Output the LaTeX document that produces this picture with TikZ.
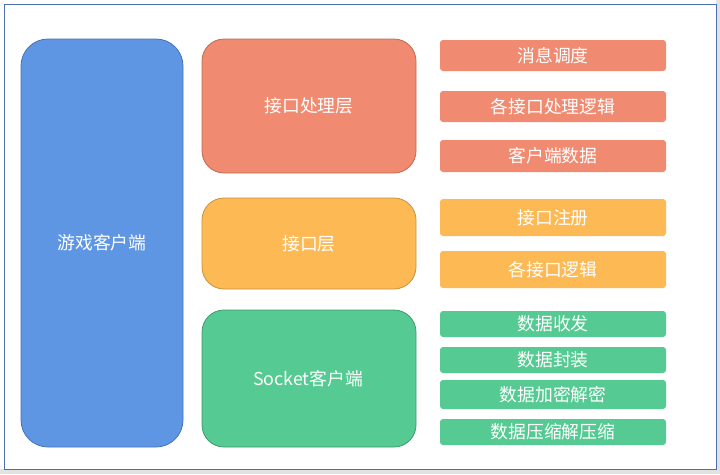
\documentclass[tikz,border=0pt]{standalone}
\usepackage{fontspec}
\setmainfont{Noto Sans CJK SC}
\definecolor{cblue}{HTML}{5E96E4}
\definecolor{cblueD}{HTML}{4673B8}
\definecolor{corange}{HTML}{F08A70}
\definecolor{corangeD}{HTML}{C06A55}
\definecolor{cyellow}{HTML}{FDB954}
\definecolor{cyellowD}{HTML}{C8923E}
\definecolor{cgreen}{HTML}{55CA92}
\definecolor{cgreenD}{HTML}{3E9A6E}
\definecolor{cframe}{HTML}{4A6FAE}
\definecolor{cgrey}{HTML}{E2E2E2}
\tikzset{
  txt/.style={text=white, font=\fontsize{17.8}{20}\selectfont},
  layer/.style={txt, draw=#1D, fill=#1, line width=0.8pt, rounded corners=22pt},
  item/.style={txt, fill=#1, rounded corners=3pt},
}
\begin{document}
\begin{tikzpicture}[x=1pt,y=-1pt]
\useasboundingbox (0,0) rectangle (720,474);
\fill[cgrey] (0,0) rectangle (720,474);
\fill[white] (0,0) rectangle (716,469);
\draw[cframe, line width=0.8pt] (4,4) rectangle (716,469);
% left big box
\path[layer=cblue, rounded corners=27pt] (21,39) rectangle (183,447);
\node[txt] (game) at (102,243) {游戏客户端};
% layers
\path[layer=corange] (202,39) rectangle (416,173);
\node[txt] (l1) at (309,106) {接口处理层};
\path[layer=cyellow] (202,198) rectangle (416,289);
\node[txt] (l2) at (309,243.5) {接口层};
\path[layer=cgreen] (202,310) rectangle (416,447);
\node[txt] (l3) at (308,378.5) {Socket客户端};
% items
\path[item=corange] (440,40) rectangle (666,71);
\node[txt] (a1) at (553,55.5) {消息调度};
\path[item=corange] (440,91) rectangle (666,122);
\node[txt] (a2) at (553,106.5) {各接口处理逻辑};
\path[item=corange] (440,140) rectangle (666,172);
\node[txt] (a3) at (553,156) {客户端数据};
\path[item=cyellow] (440,199) rectangle (666,236);
\node[txt] (b1) at (553,217.5) {接口注册};
\path[item=cyellow] (440,251) rectangle (666,288);
\node[txt] (b2) at (553,269.5) {各接口逻辑};
\path[item=cgreen] (440,311) rectangle (666,337);
\node[txt] (c1) at (553,324) {数据收发};
\path[item=cgreen] (440,347) rectangle (666,373);
\node[txt] (c2) at (553,360) {数据封装};
\path[item=cgreen] (440,380) rectangle (666,409);
\node[txt] (c3) at (553,394.5) {数据加密解密};
\path[item=cgreen] (440,419) rectangle (666,445);
\node[txt] (c4) at (553,432) {数据压缩解压缩};
\end{tikzpicture}
\end{document}
